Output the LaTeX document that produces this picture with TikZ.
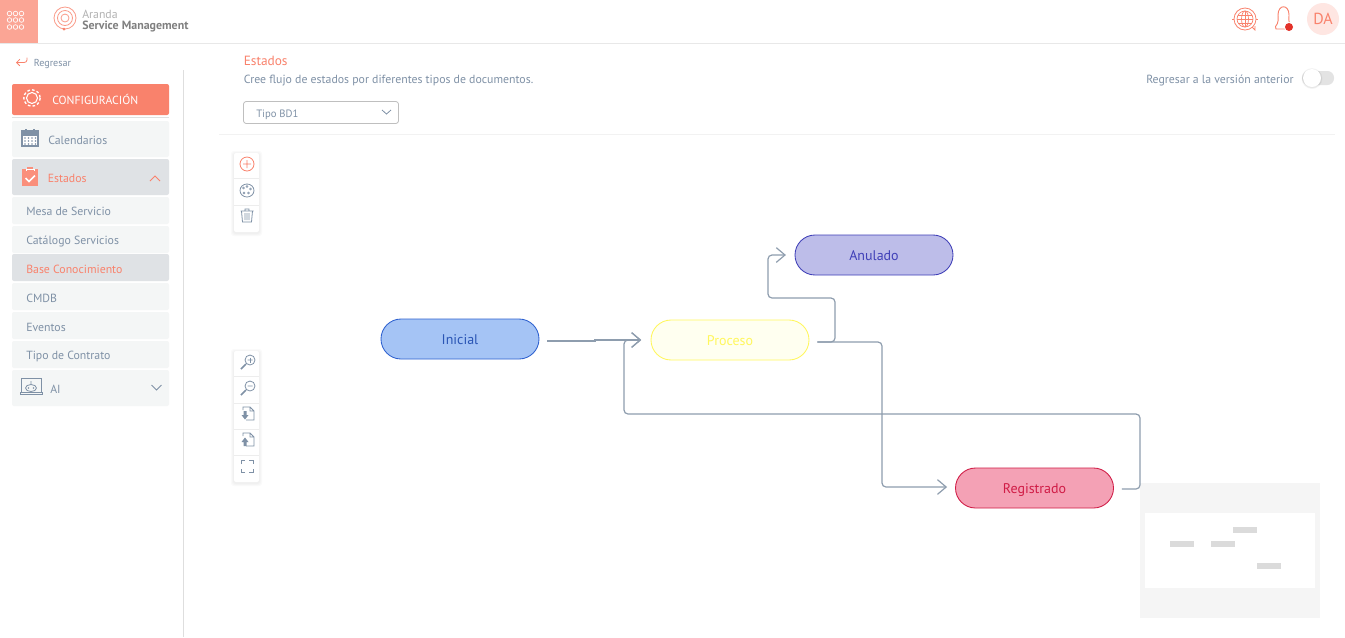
\documentclass[tikz,border=0pt]{standalone}
\usepackage{fontspec}
\setmainfont{PT Sans}
\usetikzlibrary{positioning,arrows.meta}

\definecolor{coral}{HTML}{F9826C}
\definecolor{slate}{HTML}{7F91A6}
\definecolor{wire}{HTML}{8E9DAE}
\definecolor{menubg}{HTML}{F4F6F6}
\definecolor{menusel}{HTML}{DFE2E5}
\definecolor{inicialfill}{HTML}{A5C4F5}
\definecolor{inicialline}{HTML}{2F62D0}
\definecolor{inicialtext}{HTML}{2A55B5}
\definecolor{procesofill}{HTML}{FFFFF0}
\definecolor{procesoline}{HTML}{FFF75E}
\definecolor{anuladofill}{HTML}{BDBDE9}
\definecolor{anuladoline}{HTML}{4040B8}
\definecolor{registradofill}{HTML}{F4A1B5}
\definecolor{registradoline}{HTML}{D01C46}

\tikzset{
  state/.style={draw, line width=0.65pt, rounded corners=15pt, minimum width=118.5pt, minimum height=30pt, inner sep=0pt, text height=8.5pt, text depth=0.5pt, font=\fontsize{10.5}{12}\selectfont},
  wirepath/.style={draw=wire, line width=0.9pt, rounded corners=3pt},
  wirearrow/.style={wirepath, -{Straight Barb[length=6.5pt,width=11pt,line width=0.9pt]}},
  menutext/.style={anchor=base west, inner sep=0pt, text=slate, font=\fontsize{8.85}{10}\selectfont},
  icon/.style={draw=slate, line width=0.6pt},
}

\begin{document}
\begin{tikzpicture}[x=0.75pt, y=-0.75pt]
\useasboundingbox (0,0) rectangle (1345,637);
\fill[white] (0,0) rectangle (1345,637);

% top bar
\draw[black!9, line width=0.8pt] (0,43.5) -- (1345,43.5);
\fill[coral!72] (0,0) rectangle (38,43);
\foreach \x in {9.5,15.5,21.5}
  \foreach \y in {13.5,20,27}
    \draw[white, line width=0.5pt] (\x,\y) circle (2.3);
\foreach \r in {11,7.5,4}
  \draw[coral!80, line width=0.6pt] (65,18) circle (\r);
\fill[coral] (64,29) circle (1.5);
\node[menutext, text=black!30] (brandtop) at (82,18) {Aranda};
\node[menutext, text=black!50, font=\fontsize{8.95}{10}\bfseries\selectfont] (brandname) at (82,29.5) {Service Management};

\draw[coral, line width=0.6pt] (1245,19) circle (11);
\draw[coral, line width=0.5pt] (1245,19) circle (8);
\draw[coral, line width=0.5pt] (1245,19) ellipse (3.5 and 8);
\draw[coral, line width=0.5pt] (1237,19) -- (1253,19) (1238,15) -- (1252,15) (1238,23) -- (1252,23) (1245,11) -- (1245,27);
\draw[coral, line width=0.5pt] (1232,19) -- (1234,19) (1256,19) -- (1258,19);
\fill[white] (1252,27) rectangle (1256,31);
\draw[coral, line width=0.6pt] (1252,27) -- (1255,30) -- (1255,26);
\draw[coral, line width=0.7pt] (1275.5,26.5) .. controls (1279,23) and (1278,18) .. (1278,15) .. controls (1278,4) and (1289,4) .. (1289,15) .. controls (1289,18) and (1288,23) .. (1291.5,26.5) -- (1291,29) -- (1276,29) -- cycle;
\fill[white] (1289,27) circle (5);
\fill[red!58!coral!90!black] (1289,27) circle (4);
\fill[coral!20] (1323,19) circle (16);
\node[text=coral, inner sep=0pt, font=\fontsize{12}{14}\selectfont] (avatar) at (1323,19) {DA};

% back link and side bar
\draw[coral, line width=0.6pt, -{Straight Barb[length=2.5pt,width=5pt]}] (27,57.5) -- (27,60) to[out=-90, in=0] (24,62.5) -- (16,62.5);
\node[menutext, font=\fontsize{7.6}{8}\selectfont] (back) at (33.5,66.5) {Regresar};
\draw[black!13, line width=0.7pt] (183.5,70) -- (183.5,637);

\fill[coral, rounded corners=1.5pt] (12,84) rectangle (169,115);
\draw[black!12, line width=0.7pt] (12,117.5) -- (169,117.5);
\draw[white, line width=0.8pt] (32,98) circle (5.5);
\draw[white, line width=1pt, dash pattern=on 2pt off 1.6pt] (32,98) circle (8.2);
\node[menutext, text=white, font=\fontsize{8.8}{10}\selectfont] (config) at (52,104) {CONFIGURACIÓN};

\fill[menubg, rounded corners=1.5pt] (12,121) rectangle (169,157);
\draw[slate, line width=0.8pt, fill=white] (22,131) rectangle (38,146);
\fill[slate] (22,131) rectangle (38,135.5);
\draw[slate, line width=0.8pt] (26,129) -- (26,133) (34,129) -- (34,133);
\foreach \x in {25,28.5,32,35.5}
  \foreach \y in {138,141,144}
    \fill[slate] (\x,\y) circle (0.9);
\node[menutext] (calendarios) at (48,144) {Calendarios};

\fill[menusel, rounded corners=1.5pt] (12,159) rectangle (169,195);
\fill[coral!90] (22,169) rectangle (38,186);
\fill[coral!90] (27,167) rectangle (33,171);
\draw[white, line width=0.5pt] (26,171) -- (26,169.5) -- (34,169.5) -- (34,171);
\draw[white, line width=1.1pt] (25.5,178) -- (29,181.5) -- (35,175.5);
\node[menutext, text=coral] (estados) at (47.5,182) {Estados};
\draw[coral, line width=0.7pt] (150,181) -- (155,176) -- (160,181);

\foreach \name/\label/\top/\base in {mesa/Mesa de Servicio/197/215, catalogo/Catálogo Servicios/226/244, cmdb/CMDB/283/302, eventos/Eventos/312/331, contrato/Tipo de Contrato/341/359}{
  \fill[menubg, rounded corners=1.5pt] (12,\top) rectangle (169,\top+27);
  \node[menutext] (\name) at (26,\base) {\label};
}
\fill[menusel, rounded corners=1.5pt] (12,254) rectangle (169,281);
\node[menutext, text=coral] (base) at (26,273) {Base Conocimiento};

\fill[menubg, rounded corners=1.5pt] (12,370) rectangle (169,406);
\draw[icon] (21,378) rectangle (41,392) (20,392) rectangle (42,394.5);
\draw[icon] (31,388) ellipse (5.5 and 3.5) (31,384.5) -- (31,381);
\fill[slate] (28.5,388) circle (0.8) (33.5,388) circle (0.8);
\node[menutext] (ai) at (50,393) {AI};
\draw[slate, line width=0.7pt] (151.5,385) -- (156.5,390) -- (161.5,385);

% page head
\node[menutext, text=coral, font=\fontsize{10}{12}\selectfont] (title) at (243.5,65) {Estados};
\node[menutext] (subtitle) at (243.5,83) {Cree flujo de estados por diferentes tipos de documentos.};
\node[menutext] (oldversion) at (1146,83) {Regresar a la versión anterior};
\fill[black!11, rounded corners=5pt] (1302,71) rectangle (1334,85);
\foreach \d in {10.5,10,9.5}
  \fill[black, opacity=0.03] (1312,78.5) circle (\d);
\fill[white] (1312,78) circle (9);

\draw[black!25, rounded corners=2pt, line width=0.6pt] (243.5,101.5) rectangle (398.5,123.5);
\node[menutext, font=\fontsize{8}{10}\selectfont] (tipo) at (256,117) {Tipo BD1};
\draw[slate, line width=0.6pt] (382,110) -- (386.5,114) -- (391,110);
\draw[black!5, line width=0.7pt] (219,134.5) -- (1335,134.5);

% tool bars
\foreach \ya/\yb in {153/232, 351/482}{
  \foreach \d in {3,2,1}
    \fill[black, opacity=0.02, rounded corners=2pt] (234-\d,\ya-\d+1) rectangle (259+\d,\yb+\d+1);
  \fill[white, rounded corners=1.5pt] (234,\ya) rectangle (259,\yb);
}
\foreach \y in {178.5,205.5,376.5,403.5,429.5,455.5}
  \draw[black!7, line width=0.6pt] (234,\y) -- (259,\y);
\draw[coral, line width=0.6pt] (247,164) circle (7) (243,164) -- (251,164) (247,160) -- (247,168);
\draw[icon] (247,190.5) ellipse (7 and 6.5);
\foreach \x/\y in {243.5/188, 247/186.5, 250.5/189, 244/193, 248.5/193}
  \draw[icon, line width=0.4pt] (\x,\y) circle (1);
\draw[icon] (240.5,211) -- (253.5,211) (245,211) -- (245,209) -- (249,209) -- (249,211)
  (241.5,211) -- (242.5,222) -- (251.5,222) -- (252.5,211)
  (245,213) -- (245,220) (247,213) -- (247,220) (249,213) -- (249,220);
\foreach \y/\sign in {362/1, 388/0}{
  \draw[icon] (250,\y-2) circle (5) (247.5,\y-2) -- (252.5,\y-2);
  \draw[slate, line width=1.2pt] (246,\y+2) -- (241,\y+7);
  \ifnum\sign=1 \draw[icon] (250,\y-4.5) -- (250,\y+0.5); \fi
}
\foreach \y in {407,433}
  \draw[icon] (246,\y) -- (250,\y) -- (254,\y+4) -- (254,\y+13) -- (246,\y+13) (250,\y) -- (250,\y+4) -- (254,\y+4) (243,\y+3) -- (243,\y) -- (246,\y);
\fill[slate] (243.5,411) rectangle (246.5,415) (241.5,415) -- (248.5,415) -- (245,419.5) -- cycle;
\fill[slate] (243.5,442) rectangle (246.5,446) (241.5,442) -- (248.5,442) -- (245,437.5) -- cycle;
\draw[icon] (241,464) -- (241,460.5) -- (245,460.5) (249,460.5) -- (253.5,460.5) -- (253.5,464)
  (253.5,469) -- (253.5,472.5) -- (249,472.5) (245,472.5) -- (241,472.5) -- (241,469);

% mini map
\fill[black!4] (1140,483) rectangle (1320,618);
\fill[white] (1145,513) rectangle (1315,588);
\foreach \x/\y in {1170/541, 1211/541, 1233/527, 1257/563}
  \fill[black!14] (\x,\y) rectangle ++(24,6);

% states
\node[state, draw=inicialline, fill=inicialfill, text=inicialtext] (inicial) at (460,339) {Inicial};
\node[state, draw=procesoline, fill=procesofill, text=procesoline] (proceso) at (730,340) {Proceso};
\node[state, draw=anuladoline, fill=anuladofill, text=anuladoline] (anulado) at (874,255) {Anulado};
\node[state, draw=registradoline, fill=registradofill, text=registradoline] (registrado) at (1034.5,488) {Registrado};

\draw[wirearrow, rounded corners=0pt] ([shift={(8,2)}]inicial.east) -- (595,341) -- (595,340) -- ([xshift=-7pt]proceso.west);
\draw[wirearrow] ([shift={(8,2)}]proceso.east) -- (835,342) -- (835,298) -- (768,298) -- (768,255) -- ([xshift=-6.5pt]anulado.west);
\draw[wirearrow] ([shift={(8,2)}]proceso.east) -- (882,342) -- (882,487) -- ([shift={(-8,-1)}]registrado.west);
\draw[wirearrow] ([shift={(8,1)}]registrado.east) -- (1140,489) -- (1140,414) -- (624,414) -- (624,340) -- ([xshift=-7pt]proceso.west);
\end{tikzpicture}
\end{document}
